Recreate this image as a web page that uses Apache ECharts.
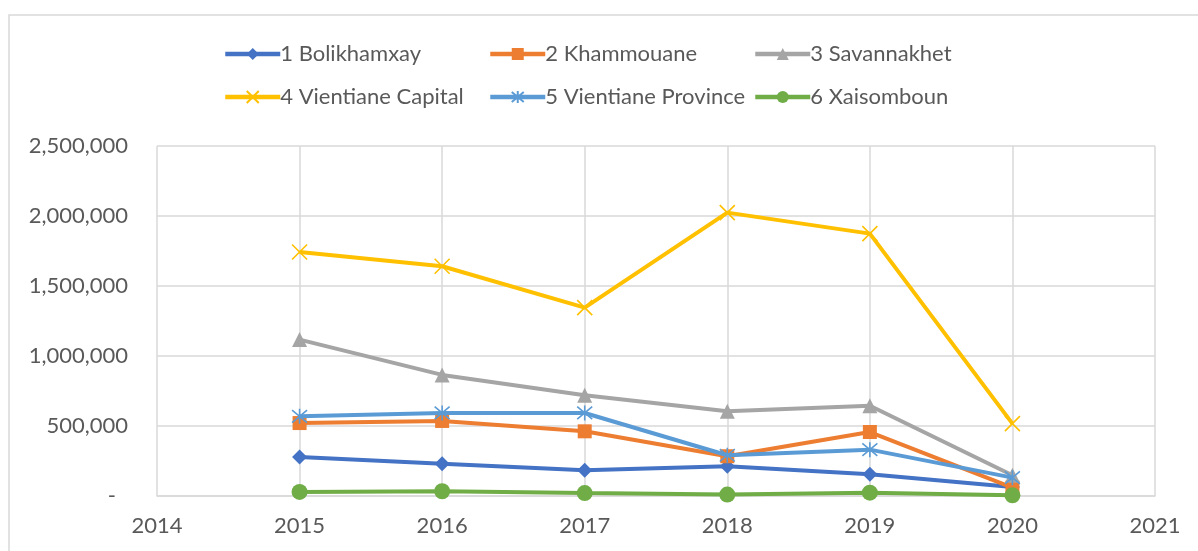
<!DOCTYPE html>
<html>
<head>
<meta charset="utf-8">
<script src="https://cdn.jsdelivr.net/npm/echarts@6/dist/echarts.min.js"></script>
<style>
  html, body { margin: 0; padding: 0; background: #fff; }
  #chart { width: 1198px; height: 551px; }
</style>
</head>
<body>
<div id="chart"></div>
<script>
const years = [2015, 2016, 2017, 2018, 2019, 2020];
const seriesNames = ["1 Bolikhamxay", "2 Khammouane", "3 Savannakhet", "4 Vientiane Capital", "5 Vientiane Province", "6 Xaisomboun"];
const bolikhamxay = [279000, 231000, 184000, 212000, 155000, 65000];
const khammouane = [521000, 536000, 462000, 284000, 457000, 60000];
const savannakhet = [1117000, 865000, 719000, 605000, 645000, 148000];
const vientianeCapital = [1743000, 1641000, 1346000, 2024000, 1874000, 517000];
const vientianeProvince = [569000, 593000, 593000, 291000, 331000, 131000];
const xaisomboun = [29000, 34000, 21000, 10000, 24000, 5000];

const colors = ["#4472C4", "#ED7D31", "#A5A5A5", "#FFC000", "#5B9BD5", "#70AD47"];
const symbols = ["diamond", "rect", "triangle", "path://M0,0L10,10M10,0L0,10", "path://M0,0L10,10M10,0L0,10M5,-1L5,11", "circle"];
const sizes = [15, 14, 15, 15, 15, 16];
const allValues = [bolikhamxay, khammouane, savannakhet, vientianeCapital, vientianeProvince, xaisomboun];

const font = "Lato";
const textColor = "#595959";
const gridColor = "#d9d9d9";

const chart = echarts.init(document.getElementById("chart"));

const legendCol = (left, names) => ({
    orient: "vertical",
    left: left,
    top: 38,
    itemGap: 21,
    itemWidth: 55,
    itemHeight: 15,
    data: names,
    lineStyle: { width: 4.5 },
    textStyle: { fontFamily: font, fontSize: 22, color: textColor, padding: [0, 0, 0, -5] }
});

chart.setOption({
    animation: false,
    graphic: [{
        type: "rect",
        shape: { x: 9, y: 15, width: 1300, height: 700 },
        style: { fill: "none", stroke: gridColor, lineWidth: 1.5 },
        silent: true
    }],
    legend: [
        legendCol(218, [seriesNames[0], seriesNames[3]]),
        legendCol(483, [seriesNames[1], seriesNames[4]]),
        legendCol(748, [seriesNames[2], seriesNames[5]])
    ],
    grid: { left: 157, right: 43, top: 146, bottom: 55 },
    xAxis: {
        type: "value",
        min: 2014,
        max: 2021,
        interval: 1,
        axisLine: { show: true, lineStyle: { color: gridColor, width: 1.5 } },
        axisTick: { show: false },
        splitLine: { show: true, lineStyle: { color: gridColor, width: 1.5 } },
        axisLabel: {
            fontFamily: font, fontSize: 22, color: textColor, margin: 19,
            formatter: v => String(v)
        }
    },
    yAxis: {
        type: "value",
        min: 0,
        max: 2500000,
        interval: 500000,
        axisLine: { show: false },
        axisTick: { show: false },
        splitLine: { show: true, lineStyle: { color: gridColor, width: 1.5 } },
        axisLabel: {
            fontFamily: font, fontSize: 22, color: textColor, margin: 29,
            formatter: v => v === 0 ? "{dash|-}" : v.toLocaleString("en-US"),
            rich: {
                dash: { fontFamily: font, fontSize: 22, color: textColor, padding: [0, 12, 0, 0] }
            }
        }
    },
    series: allValues.map((vals, i) => ({
        name: seriesNames[i],
        type: "line",
        data: years.map((y, j) => [y, vals[j]]),
        symbol: symbols[i],
        symbolSize: sizes[i],
        showSymbol: true,
        lineStyle: { color: colors[i], width: 4 },
        itemStyle: {
            color: colors[i],
            borderColor: colors[i],
            borderWidth: i === 3 || i === 4 ? 1.6 : 0
        },
        z: 2 + i
    }))
});
</script>
</body>
</html>
